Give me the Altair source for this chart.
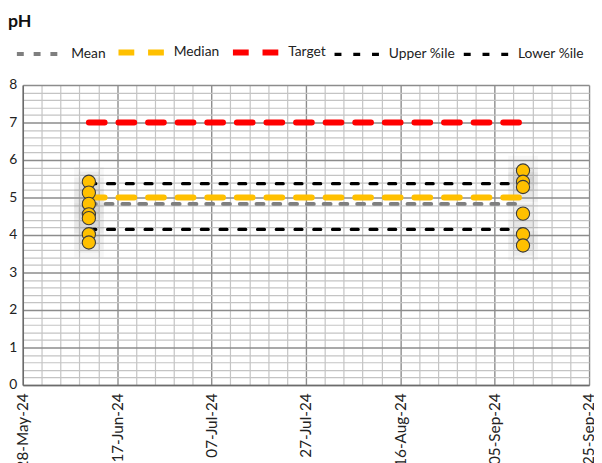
import altair as alt
import pandas as pd

# ---- data ----
sample_dates = ["2024-06-11"] * 7 + ["2024-09-11"] * 6
ph_values = [5.42, 5.13, 4.83, 4.55, 4.45, 4.02, 3.80,
             5.72, 5.42, 5.28, 4.57, 4.02, 3.72]

series_names = ["Mean", "Median", "Target", "Upper %ile", "Lower %ile"]
series_values = [4.83, 5.00, 7.00, 5.37, 4.15]
line_start = "2024-06-11"
line_end = "2024-09-11"

series_colors = ["#7F7F7F", "#FFC000", "#FF0000", "#000000", "#000000"]
series_dash = [[7, 10], [16, 14], [16, 14], [7, 12], [7, 12]]
series_width = [4, 6, 6, 3.3, 3.3]

x_ticks = pd.date_range("2024-05-28", "2024-09-25", freq="4D").strftime("%Y-%m-%d").tolist()
y_ticks = [round(k * 0.2, 1) for k in range(0, 41)]

pts = pd.DataFrame({"date": sample_dates, "ph": ph_values})
lines = pd.DataFrame({
    "date": [d for _ in series_names for d in (line_start, line_end)],
    "value": [v for v in series_values for _ in range(2)],
    "series": [s for s in series_names for _ in range(2)],
})

FONT = "Lato"
major_x = "round((datum.value - utc(2024,4,28)) / 86400000) % 20 == 0"
major_y = "abs(datum.value - round(datum.value)) < 0.001"

x_scale = alt.Scale(type="utc", domain=["2024-05-28", "2024-09-25"], nice=False)
y_scale = alt.Scale(domain=[0, 8], nice=False)

x_axis = alt.Axis(
    values=x_ticks, tickCount=500, format="%d-%b-%y", labelAngle=270, labelPadding=8,
    labelFont=FONT, labelFontSize=15.5, labelColor="#222222",
    labelExpr=f"{major_x} ? datum.label : ''",
    ticks=False, title=None, domainColor="#6b6b6b", domainWidth=1.5,
    grid=True,
    gridColor={"condition": {"test": major_x, "value": "#8c8c8c"}, "value": "#c4c4c4"},
    gridWidth={"condition": {"test": major_x, "value": 1.4}, "value": 1.2},
    labelOverlap=False, labelBound=False, labelFlush=False,
)
y_axis = alt.Axis(
    values=y_ticks, tickCount=500, format=".0f", labelPadding=6, labelFont=FONT,
    labelFontSize=14, labelColor="#222222",
    labelExpr=f"{major_y} ? datum.label : ''",
    ticks=False, title=None, domainColor="#6b6b6b", domainWidth=1.5,
    grid=True,
    gridColor={"condition": {"test": major_y, "value": "#8c8c8c"}, "value": "#c4c4c4"},
    gridWidth={"condition": {"test": major_y, "value": 1.4}, "value": 1.2},
    labelOverlap=False,
)

shadow_big = alt.Chart(pts).mark_square(color="#9a9a9a", opacity=0.08, size=900).encode(
    x=alt.X("date:T", scale=x_scale, axis=x_axis),
    y=alt.Y("ph:Q", scale=y_scale, axis=y_axis),
)
shadow_small = alt.Chart(pts).mark_square(color="#9a9a9a", opacity=0.1, size=420).encode(
    x=alt.X("date:T", scale=x_scale),
    y=alt.Y("ph:Q", scale=y_scale),
)

line_layer = alt.Chart(lines).mark_line(strokeCap="round").encode(
    x=alt.X("date:T", scale=x_scale),
    y=alt.Y("value:Q", scale=y_scale),
    detail="series:N",
    color=alt.Color("series:N", scale=alt.Scale(domain=series_names, range=series_colors),
                    legend=alt.Legend(
                        title=None, orient="none", direction="horizontal",
                        legendX=-8, legendY=-60, symbolType="stroke",
                        symbolSize=2304, labelFont=FONT, labelFontSize=14,
                        labelColor="#222222", labelOffset=5, columnPadding=1,
                        padding=0)),
    strokeDash=alt.StrokeDash("series:N",
                              scale=alt.Scale(type="ordinal", domain=series_names, range=series_dash),
                              legend=alt.Legend(title=None, orient="none")),
    strokeWidth=alt.StrokeWidth("series:N",
                                scale=alt.Scale(type="ordinal", domain=series_names, range=series_width),
                                legend=alt.Legend(title=None, orient="none")),
)

points = alt.Chart(pts).mark_point(
    shape="circle", filled=True, fill="#FFC000", stroke="#3a3a3a",
    strokeWidth=1.1, opacity=1, fillOpacity=1, size=180,
).encode(
    x=alt.X("date:T", scale=x_scale),
    y=alt.Y("ph:Q", scale=y_scale),
)

chart = alt.layer(shadow_big, shadow_small, line_layer, points).properties(
    width=574, height=304,
    autosize=alt.AutoSizeParams(type="none"),
    padding={"left": 15, "top": 75, "right": 5, "bottom": 76},
    title=alt.TitleParams("pH", anchor="start", frame="group", fontSize=18,
                          fontWeight="bold", font=FONT, color="#111111",
                          dx=-15, dy=19, offset=0, baseline="alphabetic"),
).configure_view(stroke=None)

chart.save("out.html", embed_options={"renderer": "svg", "actions": False})
